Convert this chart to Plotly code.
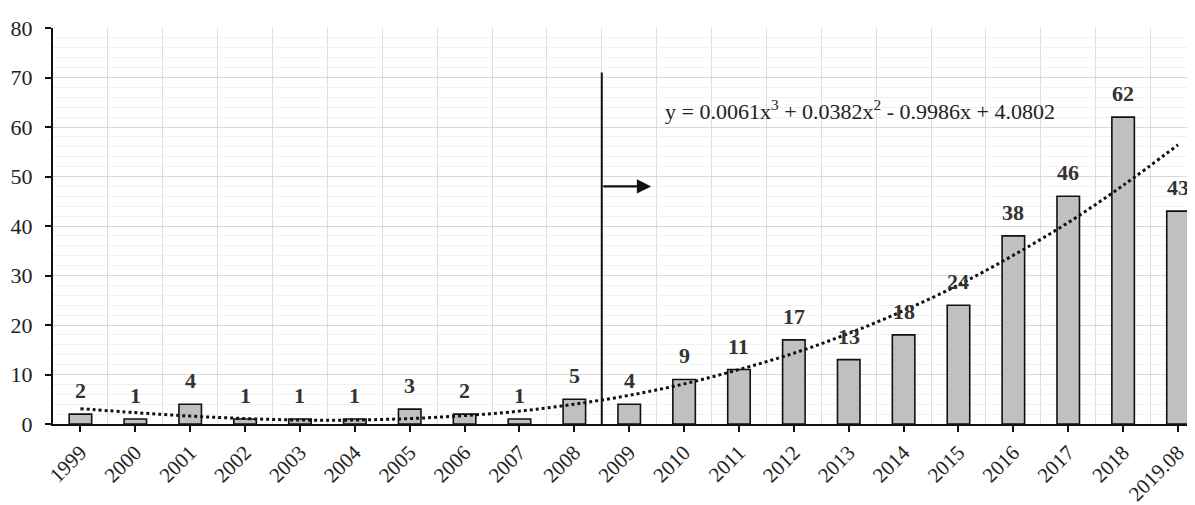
import plotly.graph_objects as go

years = ["1999", "2000", "2001", "2002", "2003", "2004", "2005", "2006", "2007", "2008",
         "2009", "2010", "2011", "2012", "2013", "2014", "2015", "2016", "2017", "2018", "2019.08"]
counts = [2, 1, 4, 1, 1, 1, 3, 2, 1, 5, 4, 9, 11, 17, 13, 18, 24, 38, 46, 62, 43]
# dotted polynomial trendline, values read at each category
trend = [3.1, 2.3, 1.6, 1.1, 0.8, 0.8, 1.1, 1.7, 2.6, 4.0, 5.8, 8.1, 11.0, 14.3, 18.3,
         22.9, 28.1, 34.1, 40.7, 48.2, 56.4]
equation = "y = 0.0061x<sup>3</sup> + 0.0382x<sup>2</sup> - 0.9986x + 4.0802"

xs = list(range(len(years)))
serif = "Liberation Serif, Times New Roman, serif"

fig = go.Figure()
fig.add_trace(go.Bar(
    x=xs, y=counts, width=0.41,
    marker=dict(color="#c0c0c0", line=dict(color="#111111", width=1.6)),
    showlegend=False, hoverinfo="skip",
))
fig.add_trace(go.Scatter(
    x=xs, y=trend, mode="lines", line=dict(color="#111111", width=3, dash="dot", shape="spline"),
    showlegend=False, hoverinfo="skip",
))
for xv, c in zip(xs, counts):
    fig.add_annotation(x=xv, y=c, xref="x", yref="y", text=f"<b>{c}</b>", showarrow=False,
                       yanchor="bottom", yshift=9,
                       font=dict(family=serif, size=22, color="#333333"))

# vertical divider between 2008 and 2009
fig.add_shape(type="line", x0=9.5, x1=9.5, y0=-2.6, y1=71, xref="x", yref="y",
              line=dict(color="#111111", width=2))
fig.add_annotation(x=10.4, y=48, ax=9.5, ay=48, xref="x", yref="y", axref="x", ayref="y",
                   showarrow=True, arrowhead=2, arrowsize=1.3, arrowwidth=2.2,
                   arrowcolor="#111111", text="")
fig.add_annotation(x=14.2, y=63.5, xref="x", yref="y", text=equation, showarrow=False,
                   font=dict(family=serif, size=22, color="#222222"))

# the page body adds an 8 px offset, so the figure is 8 px smaller than the window
fig.update_layout(
    width=1187, height=497,
    margin=dict(l=45, r=0, t=20, b=81),
    plot_bgcolor="white", paper_bgcolor="white",
)
fig.update_xaxes(
    range=[-0.5, 20.31], tickmode="array", tickvals=xs, ticktext=years, automargin=False,
    tickangle=-45, tickfont=dict(family=serif, size=21, color="#222222"),
    showline=True, linecolor="#111111", linewidth=2,
    ticks="outside", ticklen=6, tickcolor="#111111", tickwidth=1.5,
    showgrid=False, zeroline=False,
    minor=dict(tickvals=[i + 0.5 for i in range(len(years))], showgrid=True,
               gridcolor="#dddddd", gridwidth=1, ticks=""),
)
fig.update_yaxes(
    range=[0, 80], dtick=10, automargin=False,
    tickfont=dict(family=serif, size=22, color="#222222"),
    showline=True, linecolor="#111111", linewidth=2,
    ticks="outside", ticklen=6, tickcolor="#111111", tickwidth=1.5,
    ticklabelstandoff=8,
    showgrid=True, gridcolor="#d9d9d9", gridwidth=1, zeroline=False,
    minor=dict(dtick=2, showgrid=True, gridcolor="#f0f0f0", gridwidth=1),
)

fig.write_html("out.html")
